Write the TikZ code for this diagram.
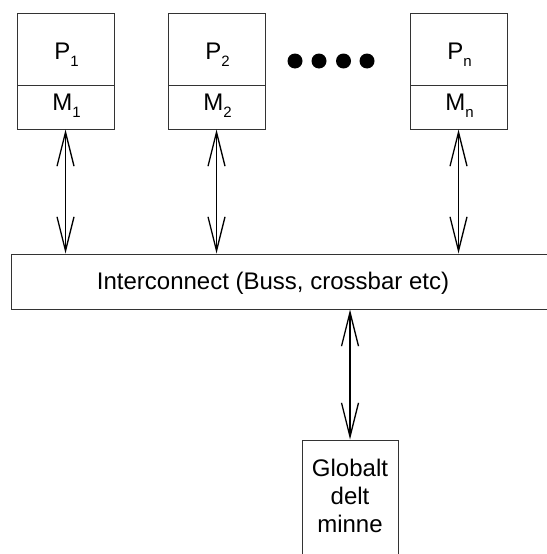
\documentclass[tikz,border=0pt]{standalone}
\usepackage{fontspec}
\setmainfont{Liberation Sans}
\usetikzlibrary{arrows.meta}
\begin{document}
\begin{tikzpicture}[x=1pt,y=-1pt,
  box/.style={draw=black!80, line width=1pt, inner sep=0pt, minimum width=97pt},
  upper/.style={box, minimum height=72pt},
  lower/.style={box, minimum height=44pt},
  lbl/.style={inner sep=0pt, font=\fontsize{24}{28}\selectfont},
  link/.style={line width=1.3pt, {Straight Barb[length=34pt,width=17pt,line width=1.3pt]}-{Straight Barb[length=34pt,width=17pt,line width=1.3pt]}},
  dot/.style={circle, fill=black, inner sep=0pt, minimum size=15pt}]
\newcommand{\subidx}[1]{\raisebox{-0.3em}{\fontsize{15}{15}\selectfont #1}}
\useasboundingbox (0,0) rectangle (546,554);
% processors with local memory
\node[upper] (p1) at (65.5,49) {};
\node[lower] (m1) at (65.5,107) {};
\node[upper] (p2) at (216.5,49) {};
\node[lower] (m2) at (216.5,107) {};
\node[upper] (pn) at (458.5,49) {};
\node[lower] (mn) at (458.5,107) {};
\node[lbl] (tp1) at (66.5,55) {P\subidx{1}};
\node[lbl] (tm1) at (66.5,106) {M\subidx{1}};
\node[lbl] (tp2) at (217.5,55) {P\subidx{2}};
\node[lbl] (tm2) at (217.5,106) {M\subidx{2}};
\node[lbl] (tpn) at (459.5,55) {P\subidx{n}};
\node[lbl] (tmn) at (459.5,106) {M\subidx{n}};
% ellipsis dots
\node[dot] (d1) at (295,61) {};
\node[dot] (d2) at (319,61) {};
\node[dot] (d3) at (343.5,61) {};
\node[dot] (d4) at (367,61) {};
% interconnect (runs off the right edge)
\node[draw=black!80, line width=1pt, minimum width=549pt, minimum height=55pt, inner sep=0pt] (bus) at (285.5,281.5) {};
\node[lbl] (bustext) at (273,283) {Interconnect (Buss, crossbar etc)};
% shared global memory (runs off the bottom edge)
\node[draw=black!80, line width=1pt, minimum width=96pt, minimum height=130pt, inner sep=0pt] (gm) at (350,505) {};
\node[lbl, align=center, anchor=north, font=\fontsize{24}{28}\selectfont] (gmtext) at (350,459) {Globalt\\delt\\minne};
% links
\draw[link] (m1.south) -- (bus.north -| m1.south);
\draw[link] (m2.south) -- (bus.north -| m2.south);
\draw[link] (mn.south) -- (bus.north -| mn.south);
\draw[link] (bus.south -| gm.north) -- (gm.north);
\end{tikzpicture}
\end{document}
